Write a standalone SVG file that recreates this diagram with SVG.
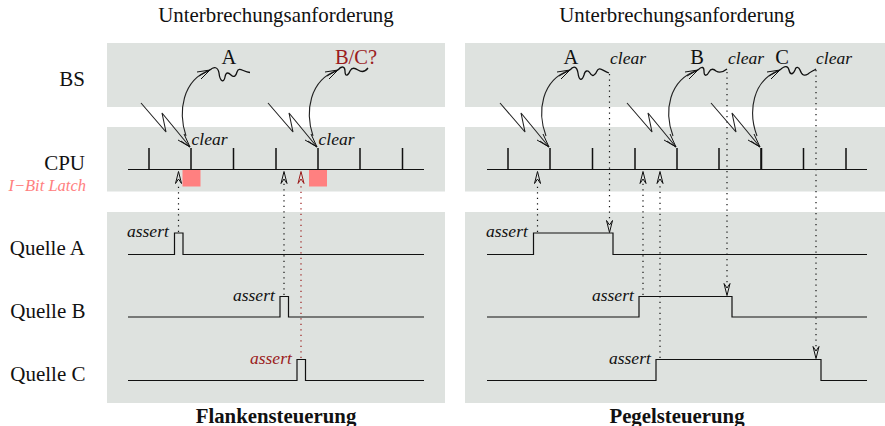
<svg xmlns="http://www.w3.org/2000/svg" width="885" height="426" viewBox="0 0 885 426">
<style>
text{font-family:"Liberation Serif","Times New Roman",serif;fill:#111}
.t{font-size:20.900px;text-anchor:middle}
.l{font-size:21px;text-anchor:end}
.n{font-size:20.500px;text-anchor:middle}
.i{font-size:17.500px;font-style:italic}
.b{font-size:20.800px;font-weight:bold;text-anchor:middle}
.red{fill:#9b1c1c}
.bg{fill:#dee2df}
.w{fill:none;stroke:#111;stroke-width:1.2}
.th{fill:none;stroke:#222;stroke-width:1.1}
.g{fill:none;stroke:#111;stroke-width:1.3}
.d{fill:none;stroke:#111;stroke-width:1.2;stroke-dasharray:1.3 4.2}
.dr{fill:none;stroke:#9b1c1c;stroke-width:1.2;stroke-dasharray:1.3 4.2}
.tick{stroke:#111;stroke-width:1.5}
.a{fill:none;stroke:#111;stroke-width:1}
.ar{fill:none;stroke:#9b1c1c;stroke-width:1}
</style>
<defs>
<g id="bolt"><path class="th" d="M0 0L25 29L21 10L49 44"/><path class="a" d="M37 37L49 44L43 31M49 44L40 38"/></g>
<g id="up"><path class="a" d="M-3 12.500L0 0.500L3 12.500M-3 12.500L0 8L3 12.500"/></g>
<g id="down"><path class="a" d="M-3 -12.500L0 -0.500L3 -12.500M-3 -12.500L0 -8L3 -12.500"/></g>
<g id="ticks"><path class="tick" d="M0 148V169.500M42 148V169.500M84.500 148V169.500M127 148V169.500M169 148V169.500M211 148V169.500M253.500 148V169.500"/></g>
</defs>
<g id="backgrounds">
<rect class="bg" x="107" y="43" width="338" height="64"/>
<rect class="bg" x="107" y="127" width="338" height="64.500"/>
<rect class="bg" x="107" y="212" width="338" height="191"/>
<rect class="bg" x="465" y="43" width="420" height="64"/>
<rect class="bg" x="465" y="127" width="420" height="64.500"/>
<rect class="bg" x="465" y="212" width="420" height="191"/>
</g>
<g id="titles">
<text class="t" x="276" y="22">Unterbrechungsanforderung</text>
<text class="t" x="677" y="22">Unterbrechungsanforderung</text>
<text class="b" x="276" y="423">Flankensteuerung</text>
<text class="b" x="677" y="423">Pegelsteuerung</text>
</g>
<g id="row-labels">
<text class="l" x="85" y="86">BS</text>
<text class="l" x="85" y="170">CPU</text>
<text x="86" y="191" text-anchor="end" style="font-size:16.500px;font-style:italic;fill:#ff8080">I−Bit Latch</text>
<text class="l" x="85" y="255">Quelle A</text>
<text class="l" x="85.500" y="318">Quelle B</text>
<text class="l" x="85.500" y="381">Quelle C</text>
</g>
<g id="latches">
<rect x="182.500" y="169.500" width="18" height="17" fill="#ff8080"/>
<rect x="309" y="169.500" width="18" height="17" fill="#ff8080"/>
</g>
<g id="timelines">
<path class="w" d="M128 169.500H424M487 169.500H867"/>
<use href="#ticks" x="149"/>
<use href="#ticks" x="508"/>
<path class="tick" d="M761 148V169.500M803.500 148V169.500M846 148V169.500"/>
</g>
<g id="signals">
<path class="w" d="M128 254.500H174.500V233H183V254.500H424"/>
<path class="w" d="M128 317H280V296.500H288.500V317H424"/>
<path class="w" d="M128 380.500H297V359.500H305.500V380.500H424"/>
<path class="w" d="M487 254.500H533.500V233H613V254.500H867"/>
<path class="w" d="M487 317H639V296.500H732V317H867"/>
<path class="w" d="M487 380.500H656V359.500H821V380.500H867"/>
</g>
<g id="connectors">
<path class="d" d="M178.500 232V183"/><use href="#up" x="178.500" y="171"/>
<path class="d" d="M284 295V183"/><use href="#up" x="284" y="171"/>
<path class="dr" d="M301 358V183"/><path class="ar" d="M298 183.500L301 171.500L304 183.500M298 183.500L301 179L304 183.500"/>
<path class="d" d="M537.500 232V183"/><use href="#up" x="537.500" y="171"/>
<path class="d" d="M643 295V183"/><use href="#up" x="643" y="171"/>
<path class="d" d="M660 358V183"/><use href="#up" x="660" y="171"/>
<path class="d" d="M609.500 74V221"/><use href="#down" x="609.500" y="233"/>
<path class="d" d="M727 72V284"/><use href="#down" x="727" y="296"/>
<path class="d" d="M816 70V347"/><use href="#down" x="816" y="359"/>
<use href="#bolt" x="141" y="103"/>
<use href="#bolt" x="268" y="103"/>
<use href="#bolt" x="500" y="103"/>
<use href="#bolt" x="627" y="103"/>
<use href="#bolt" x="711" y="103"/>
<path class="th" d="M186 136C178 112 182 80 210 70"/><path class="a" d="M197 72L210 70L201 79M210 70L199 76"/>
<path class="th" d="M313 136C305 112 309 80 338 70"/><path class="a" d="M325 72L338 70L329 79M338 70L327 76"/>
<path class="th" d="M546 136C537 112 541 80 570 70"/><path class="a" d="M557 72L570 70L561 79M570 70L559 76"/>
<path class="th" d="M673 136C664 112 668 80 698 70"/><path class="a" d="M685 72L698 70L689 79M698 70L687 76"/>
<path class="th" d="M757 136C748 112 752 80 780 70"/><path class="a" d="M767 72L780 70L771 79M780 70L769 76"/>
</g>
<g id="squiggles">
<path class="g" d="M210 70C214 66 218 67 219 73C220 82 224 83 225 77C226 71 229 73 231 75C234 78 236 76 237 72C239 66 243 72 250 72.500"/>
<path class="g" d="M338 70C342 65 345 67 345 71C345 77 348 76 350 71C352 67 355 68 358 70C361 72 365 72 368 68"/>
<path class="g" d="M570 70C574 65 577 67 578 73C579 81 582 81 584 75C585 70 588 70 590 73C592 77 595 76 597 71C599 66 603 71 609 73"/>
<path class="g" d="M698 70C702 66 704 67 704 71C704 77 707 76 709 72C711 68 714 69 716 71C719 73 722 73 727 69"/>
<path class="g" d="M780 70C785 65 788 66 789 70C790 75 793 75 795 70C796 66 799 67 800 70C802 76 805 76 808 74C810 72 813 71 816 69"/>
</g>
<g id="labels">
<text class="n" x="229" y="64">A</text>
<text class="n red" x="356" y="64">B/C?</text>
<text class="n" x="571" y="64">A</text>
<text class="n" x="697" y="64">B</text>
<text class="n" x="782" y="64">C</text>
<text class="i" x="191.500" y="145">clear</text>
<text class="i" x="318.500" y="145">clear</text>
<text class="i" x="610" y="63.500">clear</text>
<text class="i" x="728" y="63.500">clear</text>
<text class="i" x="816" y="63.500">clear</text>
<text class="i" x="127" y="237">assert</text>
<text class="i" x="233" y="301">assert</text>
<text class="i red" x="250" y="364">assert</text>
<text class="i" x="486" y="237">assert</text>
<text class="i" x="592" y="301">assert</text>
<text class="i" x="609" y="364">assert</text>
</g>
</svg>
